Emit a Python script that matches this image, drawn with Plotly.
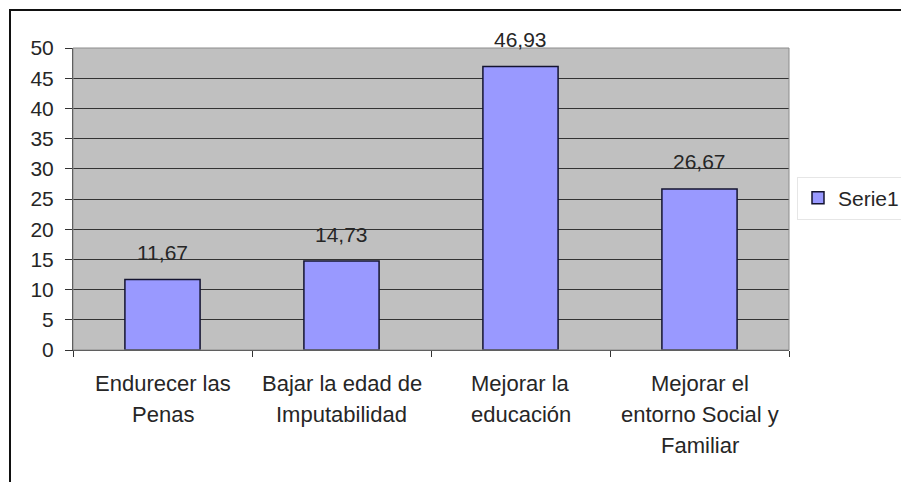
import plotly.graph_objects as go

categories = ["Endurecer las<br>Penas", "Bajar la edad de<br>Imputabilidad",
              "Mejorar la<br>educación", "Mejorar el<br>entorno Social y<br>Familiar"]
values = [11.67, 14.73, 46.93, 26.67]
series_name = "Serie1"
y_ticks = [0, 5, 10, 15, 20, 25, 30, 35, 40, 45, 50]

OFF = 8  # page body margin
W, H = 909 - OFF, 482 - OFF
# plot area in window pixels: x 73..789, y 48..350
L, R, T, B = 73 - OFF, 909 - 789, 48 - OFF, 482 - 350
pw, ph = W - L - R, H - T - B

def px_x(x):
    return (x - OFF - L) / pw

def px_y(y):
    return (H - B - (y - OFF)) / ph

font = dict(family="Liberation Sans, Arial, sans-serif", size=21, color="#262626")
cat_font = dict(family="Liberation Sans, Arial, sans-serif", size=22, color="#262626")

fig = go.Figure()
fig.add_trace(go.Bar(
    x=categories, y=values, name=series_name,
    marker=dict(color="#9999FF", line=dict(color="#141430", width=1.5)),
    width=0.42,
))

annotations = []
for c, v in zip(categories, values):
    annotations.append(dict(x=c, y=v, xref="x", yref="y", text=f"{v:.2f}".replace(".", ","),
                            showarrow=False, yshift=27, font=font))
    for i, line in enumerate(c.split("<br>")):
        annotations.append(dict(x=c, y=0, xref="x", yref="paper", text=line,
                                showarrow=False, yshift=-(33 + 31 * i), yanchor="middle",
                                font=cat_font))

fig.update_layout(
    width=W, height=H,
    margin=dict(l=L, r=R, t=T, b=B, autoexpand=False),
    paper_bgcolor="white", plot_bgcolor="#C0C0C0",
    font=font,
    showlegend=True,
    legend=dict(x=px_x(797), y=px_y(198), xanchor="left", yanchor="middle",
                bgcolor="white", bordercolor="#e6e6e6", borderwidth=1,
                font=font, itemwidth=30),
    xaxis=dict(showline=True, linecolor="#333333", linewidth=1, automargin=False,
               ticks="outside", tickson="boundaries", ticklen=6, tickcolor="#333333",
               showgrid=False, showticklabels=False),
    yaxis=dict(range=[0, 50], tickvals=y_ticks, showline=True, linecolor="#333333", linewidth=1,
               ticks="outside", ticklen=7, tickcolor="#333333", automargin=False,
               ticklabelstandoff=7,
               showgrid=True, gridcolor="#333333", gridwidth=1, zeroline=False,
               tickfont=font),
    annotations=annotations,
    shapes=[
        dict(type="rect", xref="paper", yref="paper", x0=0, x1=1, y0=0, y1=1,
             line=dict(color="#8c8c8c", width=1), layer="above"),
        dict(type="rect", xref="paper", yref="paper",
             x0=px_x(10), x1=px_x(930), y0=px_y(500), y1=px_y(10),
             line=dict(color="#111111", width=2), layer="above"),
    ],
)

fig.write_html("out.html")
